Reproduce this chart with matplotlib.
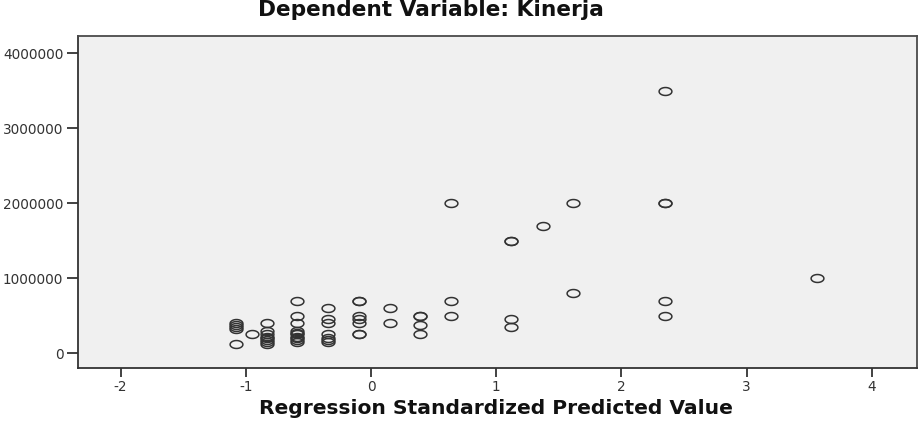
import numpy as np
import matplotlib
matplotlib.use("Agg")
import matplotlib.pyplot as plt
from matplotlib.path import Path

# ---- data ----
title_text = "Dependent Variable: Kinerja"
xlabel_text = "Regression Standardized Predicted Value"

pred = [-1.08, -1.08, -1.08, -1.08, -1.08,
        -0.95,
        -0.83, -0.83, -0.83, -0.83, -0.83, -0.83, -0.83, -0.83,
        -0.59, -0.59, -0.59, -0.59, -0.59, -0.59, -0.59, -0.59, -0.59, -0.59,
        -0.34, -0.34, -0.34, -0.34, -0.34, -0.34, -0.34,
        -0.10, -0.10, -0.10, -0.10, -0.10, -0.10, -0.10,
        0.15, 0.15,
        0.39, 0.39, 0.39, 0.39,
        0.64, 0.64, 0.64,
        1.12, 1.12, 1.12, 1.12,
        1.37,
        1.61, 1.61,
        2.35, 2.35, 2.35, 2.35, 2.35,
        3.56]
kinerja = [400000, 375000, 350000, 325000, 120000,
           250000,
           400000, 300000, 250000, 220000, 200000, 170000, 150000, 120000,
           700000, 500000, 400000, 300000, 270000, 250000, 220000, 200000, 170000, 150000,
           600000, 450000, 400000, 250000, 200000, 170000, 150000,
           700000, 700000, 500000, 450000, 400000, 250000, 250000,
           600000, 400000,
           500000, 500000, 370000, 250000,
           2000000, 700000, 500000,
           1500000, 1500000, 450000, 350000,
           1700000,
           2000000, 800000,
           3500000, 2000000, 2000000, 700000, 500000,
           1000000]

xticks = [-2, -1, 0, 1, 2, 3, 4]
yticks = [0, 1000000, 2000000, 3000000, 4000000]

# ---- figure ----
W, H = 921, 422
fig = plt.figure(figsize=(W / 100, H / 100), dpi=100)
fig.patch.set_facecolor("white")

L, R, T, B = 78, 917, 36, 368
ax = fig.add_axes([L / W, 1 - B / H, (R - L) / W, (B - T) / H])
ax.set_facecolor("#f0f0f0")

# elliptical open marker (wider than tall, like the reference)
t = np.linspace(0, 2 * np.pi, 60)
ell = Path(np.column_stack([np.cos(t), 0.62 * np.sin(t)]), closed=True)

ax.plot(pred, kinerja, linestyle="none", marker=ell, markersize=9.2,
        markerfacecolor="none", markeredgecolor="#333333", markeredgewidth=1.1)

ax.set_xlim(-2.34, 4.36)
ax.set_ylim(-200000, 4230000)
ax.set_xticks(xticks)
ax.set_xticklabels([str(v) for v in xticks])
ax.set_yticks(yticks)
ax.set_yticklabels([str(v) for v in yticks])

for s in ax.spines.values():
    s.set_color("#4a4a4a")
    s.set_linewidth(1.3)
ax.spines["left"].set_color("#333333")
ax.spines["bottom"].set_color("#333333")
ax.tick_params(axis="both", direction="out", width=1.3, color="#333333",
               labelsize=9.8, labelcolor="#333333")
ax.tick_params(axis="x", length=6.5, pad=2)
ax.tick_params(axis="y", length=8, pad=2.5)

# title & x label as figure text, auto-sized to reference widths
title = fig.text(431 / W, 1 - 16 / H, title_text, ha="center", va="baseline",
                 fontsize=12, fontweight="bold", family="DejaVu Sans", color="#111111")
xl = fig.text(496 / W, 1 - 414 / H, xlabel_text, ha="center", va="baseline",
              fontsize=12, fontweight="bold", family="DejaVu Sans", color="#111111")

fig.canvas.draw()
r = fig.canvas.get_renderer()
for txt, target in [(title, 343), (xl, 473)]:
    w = txt.get_window_extent(r).width
    txt.set_fontsize(12 * target / w)

fig.savefig("out.png", dpi=100)
